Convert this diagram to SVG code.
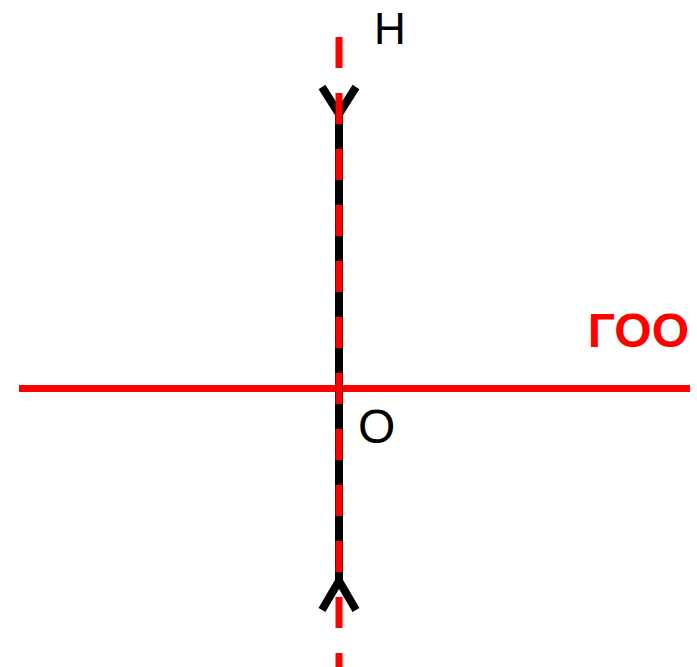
<svg xmlns="http://www.w3.org/2000/svg" width="697" height="667" viewBox="0 0 697 667">
<style>
.blk{stroke:#000;stroke-width:8;fill:none}
.red{stroke:#f00;stroke-width:7;fill:none}
.lbl{font-family:"Liberation Sans",Arial,sans-serif;fill:#000}
</style>
<rect width="697" height="667" fill="#fff"/>
<g id="connectors">
<line class="red" x1="19" y1="388.5" x2="690" y2="388.5"/>
<line class="blk" x1="339" y1="110" x2="339" y2="583"/>
<polyline class="blk" points="322,87 339,114 356,87"/>
<polyline class="blk" points="322,610 339,581 356,610"/>
<line class="red" x1="339" y1="37" x2="339" y2="667" stroke-width="8" stroke-dasharray="31 25"/>
</g>
<g id="H"><text class="lbl" x="374" y="44" font-size="44">H</text></g>
<g id="O"><text class="lbl" x="358" y="443" font-size="48">O</text></g>
<g id="GOO"><text x="689" y="347" font-size="48" font-weight="bold" text-anchor="end" font-family="Liberation Sans, Arial, sans-serif" fill="#f00">ГОО</text></g>
</svg>
